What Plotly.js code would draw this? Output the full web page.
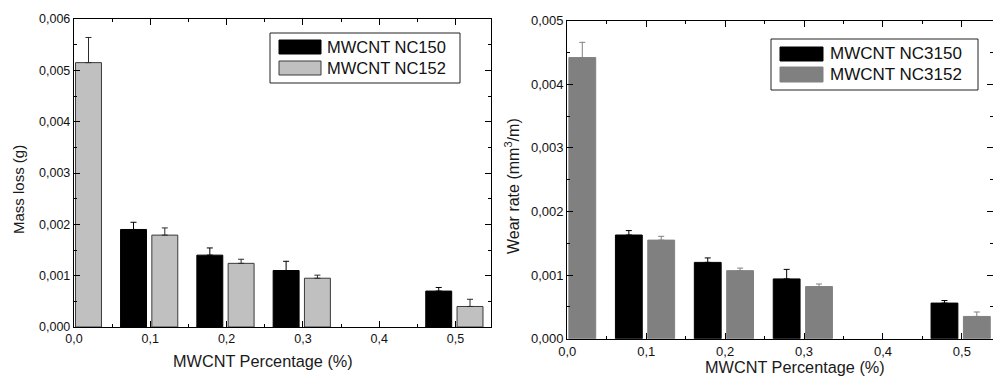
<!DOCTYPE html>
<html>
<head>
<meta charset="utf-8">
<script src="https://cdn.plot.ly/plotly-3.0.1.min.js"></script>
<style>html,body{margin:0;padding:0;background:#fff}#chart{width:993px;height:376px}</style>
</head>
<body>
<div id="chart"></div>
<script>
// ---- data ----
const pct = [0, 0.1, 0.2, 0.3, 0.5];
const seriesLeftA = 'MWCNT NC150';
const seriesLeftB = 'MWCNT NC152';
const seriesRightA = 'MWCNT NC3150';
const seriesRightB = 'MWCNT NC3152';
const massLossNC150 = [null, 0.00190, 0.00140, 0.00110, 0.00070];
const massLossNC150Err = [null, 0.00014, 0.00014, 0.00018, 0.00007];
const massLossNC152 = [0.00515, 0.00179, 0.00124, 0.00095, 0.00040];
const massLossNC152Err = [0.00049, 0.00014, 0.00008, 0.00006, 0.00014];
const wearNC3150 = [null, 0.00163, 0.00120, 0.00094, 0.00056];
const wearNC3150Err = [null, 0.00007, 0.00007, 0.00015, 0.00004];
const wearNC3152 = [0.00442, 0.00155, 0.00107, 0.00082, 0.00035];
const wearNC3152Err = [0.00024, 0.00006, 0.00004, 0.00004, 0.00007];
const xTitle = 'MWCNT Percentage (%)';
const yTitleLeft = 'Mass loss (g)';
const yTitleRight = 'Wear rate (mm<sup>3</sup>/m)';

// ---- layout helpers ----
const W = 993, H = 376;
const px = v => v / W;
const py = v => 1 - v / H;
const FONT = 'Liberation Sans, Arial, sans-serif';
const zeros = a => a.map(v => v == null ? null : 0);

function barTrace(x, y, err, name, fill, line, errColor, offset, xa, ya) {
  return {
    type: 'bar', x: x, y: y, name: name, xaxis: xa, yaxis: ya,
    offset: offset, width: 0.034, showlegend: false,
    marker: {color: fill, line: {color: line, width: 1}},
    error_y: {type: 'data', symmetric: false, array: err, arrayminus: zeros(err),
              color: errColor, thickness: 1, width: 3},
    hoverinfo: 'x+y+name'
  };
}

const traces = [
  barTrace(pct, massLossNC150, massLossNC150Err, seriesLeftA, '#000000', '#000000', '#000000', -0.039, 'x', 'y'),
  barTrace(pct, massLossNC152, massLossNC152Err, seriesLeftB, '#c0c0c0', '#3a3a3a', '#2a2a2a', 0.002, 'x', 'y'),
  barTrace(pct, wearNC3150, wearNC3150Err, seriesRightA, '#000000', '#000000', '#000000', -0.039, 'x2', 'y2'),
  barTrace(pct, wearNC3152, wearNC3152Err, seriesRightB, '#808080', '#808080', '#808080', 0.002, 'x2', 'y2')
];

function xAxis(domain, range, yanchor, fs) {
  return {
    domain: domain, range: range, anchor: yanchor,
    tickmode: 'linear', tick0: 0, dtick: 0.1, tickformat: '.1f',
    ticks: 'inside', ticklen: 6, tickwidth: 1, tickcolor: '#000',
    minor: {ticks: 'inside', ticklen: 3, dtick: 0.05, tickcolor: '#000'},
    showline: true, linecolor: '#000', linewidth: 1.2, mirror: 'ticks',
    showgrid: false, zeroline: false,
    tickfont: {family: FONT, size: fs, color: '#111'},
    fixedrange: true
  };
}
function yAxis(domain, range, dtick, xanchor, fs) {
  return {
    domain: domain, range: range, anchor: xanchor,
    tickmode: 'linear', tick0: 0, dtick: dtick, tickformat: '.3f',
    ticks: 'inside', ticklen: 6, tickwidth: 1, tickcolor: '#000',
    minor: {ticks: 'inside', ticklen: 3, dtick: dtick / 2, tickcolor: '#000'},
    showline: true, linecolor: '#000', linewidth: 1.2, mirror: 'ticks',
    showgrid: false, zeroline: false,
    tickfont: {family: FONT, size: fs, color: '#111'},
    fixedrange: true
  };
}

const shapes = [];
const annotations = [];
function legend(box, sw1, sw2, textX, names, fills, lines, fs) {
  shapes.push({type: 'rect', xref: 'paper', yref: 'paper',
    x0: px(box[0]), x1: px(box[1]), y0: py(box[3]), y1: py(box[2]),
    line: {color: '#222', width: 1}, fillcolor: '#fff', layer: 'above'});
  [sw1, sw2].forEach((s, i) => {
    shapes.push({type: 'rect', xref: 'paper', yref: 'paper',
      x0: px(s[0]), x1: px(s[1]), y0: py(s[3]), y1: py(s[2]),
      line: {color: lines[i], width: 1}, fillcolor: fills[i], layer: 'above'});
    annotations.push({xref: 'paper', yref: 'paper', x: px(textX), y: py((s[2] + s[3]) / 2),
      xanchor: 'left', yanchor: 'middle', showarrow: false, text: names[i],
      font: {family: FONT, size: fs, color: '#111'}});
  });
}
legend([270, 460, 33, 83], [279, 321, 40, 54], [279, 321, 61, 75], 325,
  [seriesLeftA, seriesLeftB], ['#000000', '#c0c0c0'], ['#000000', '#3a3a3a'], 16.5);
legend([771, 978, 39, 90], [780, 823, 47, 61], [780, 823, 67, 82], 828,
  [seriesRightA, seriesRightB], ['#000000', '#808080'], ['#000000', '#808080'], 17);

function title(text, x, y, angle, fs) {
  annotations.push({xref: 'paper', yref: 'paper', x: px(x), y: py(y),
    xanchor: 'center', yanchor: 'middle', showarrow: false, text: text, textangle: angle,
    font: {family: FONT, size: fs, color: '#1a1a1a'}});
}
title(xTitle, 262.5, 360.5, 0, 16.3);
title(yTitleLeft, 18, 190, -90, 15);
title(xTitle, 794.7, 366.5, 0, 16.3);
title(yTitleRight, 512, 186, -90, 16);

const layout = {
  width: W, height: H,
  margin: {l: 0, r: 0, t: 0, b: 0},
  paper_bgcolor: '#fff', plot_bgcolor: '#fff',
  separators: ',.',
  showlegend: false,
  xaxis: xAxis([px(74), px(491)], [0, 0.5465], 'y', 12.5),
  yaxis: yAxis([py(327), py(19)], [0, 0.006], 0.001, 'x', 12.5),
  xaxis2: xAxis([px(567.3), 1], [0, 0.5395], 'y2', 13),
  yaxis2: yAxis([py(338.7), py(20.7)], [0, 0.005], 0.001, 'x2', 13),
  shapes: shapes,
  annotations: annotations
};

Plotly.newPlot('chart', traces, layout, {displayModeBar: false, staticPlot: true});
</script>
</body>
</html>
